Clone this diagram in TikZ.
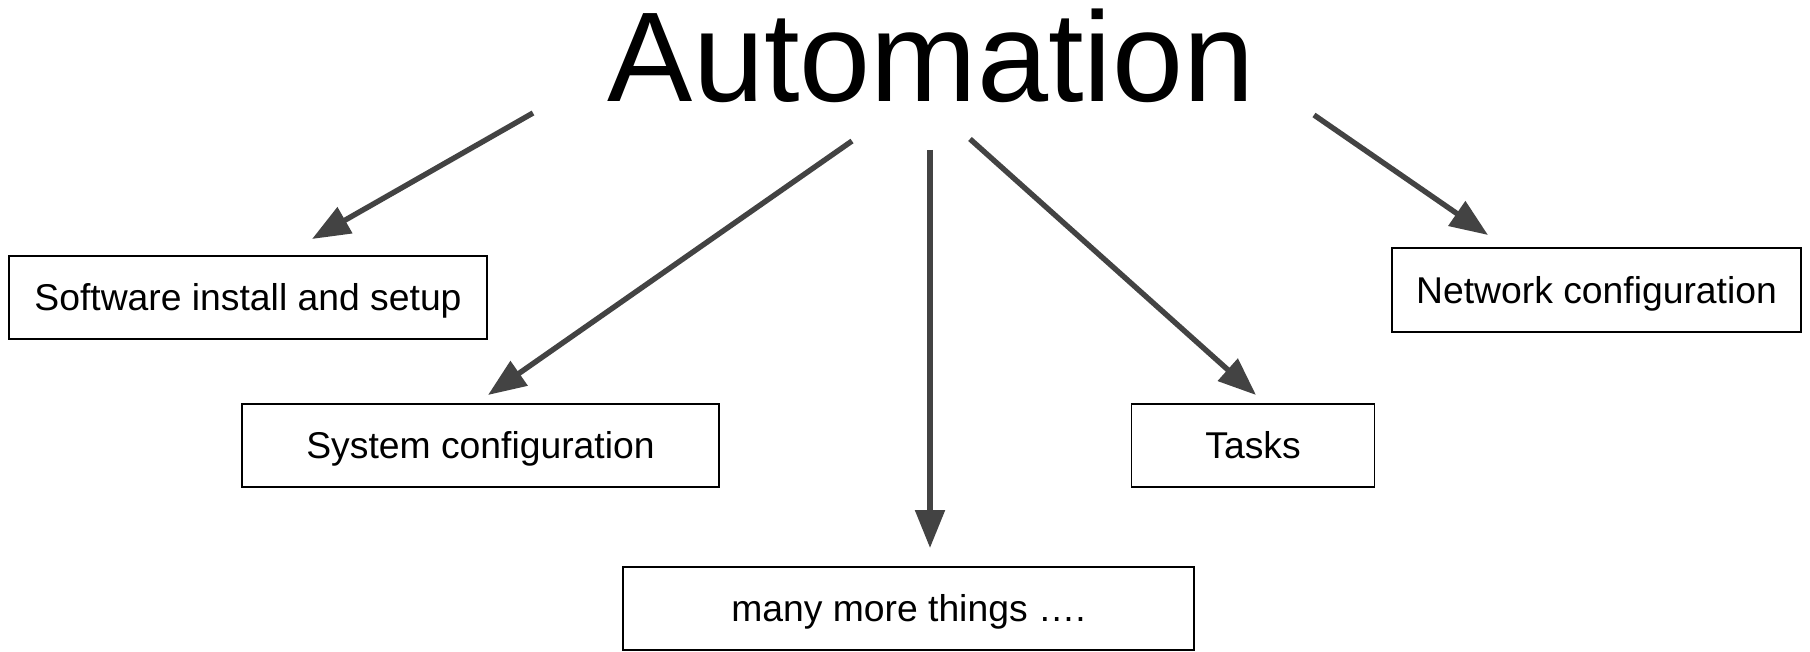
\documentclass[tikz,border=0pt]{standalone}
\usepackage{fontspec}
\setmainfont{Liberation Sans}
\usetikzlibrary{arrows.meta}
\definecolor{arrowgray}{HTML}{434343}
\begin{document}
\begin{tikzpicture}[x=1pt,y=-1pt,
  box/.style={draw=black, line width=1.5pt, fill=white, inner sep=0pt,
    text height=26.7pt, text depth=0pt,
    font=\fontsize{37.3}{45}\selectfont},
  conn/.style={draw=arrowgray, line width=5.4pt,
    -{Triangle[length=38pt,width=29pt]}}]
\useasboundingbox (0,0) rectangle (1810,652);
\node[inner sep=0pt, anchor=base, font=\fontsize{127.8}{150}\selectfont] (title) at (931,102) {Automation};
\node[box, minimum width=478pt, minimum height=83pt] (sw) at (248,297.5) {Software install and setup};
\node[box, minimum width=477pt, minimum height=83pt] (sys) at (480.5,445.5) {System configuration};
\node[box, minimum width=571pt, minimum height=83pt] (more) at (908.5,608.5) {many more things ….};
\node[box, minimum width=243pt, minimum height=83pt] (tasks) at (1253,445.5) {Tasks};
\node[box, minimum width=409pt, minimum height=84pt] (net) at (1596.5,290) {Network configuration};
\coordinate (a1s) at (533,113);  \coordinate (a1e) at (312,239);
\coordinate (a2s) at (852,141);  \coordinate (a2e) at (488,395);
\coordinate (a3s) at (930,150);  \coordinate (a3e) at (930,548);
\coordinate (a4s) at (970,139);  \coordinate (a4e) at (1256,395);
\coordinate (a5s) at (1314,115); \coordinate (a5e) at (1488,235);
\draw[conn] (a1s) -- (a1e);
\draw[conn] (a2s) -- (a2e);
\draw[conn] (a3s) -- (a3e);
\draw[conn] (a4s) -- (a4e);
\draw[conn] (a5s) -- (a5e);
\end{tikzpicture}
\end{document}
